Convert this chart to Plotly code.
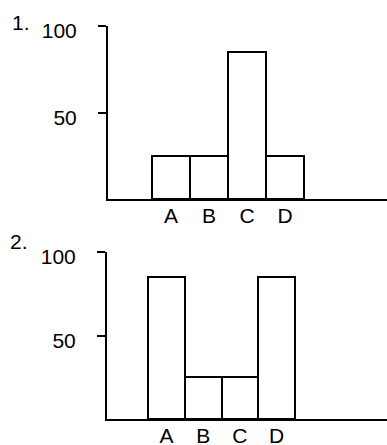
import plotly.graph_objects as go

categories = ['A', 'B', 'C', 'D']
values_1 = [25, 25, 85, 25]
values_2 = [85, 25, 25, 85]
y_ticks = [50, 100]
panel_labels = ['1.', '2.']

FONT = dict(family='Liberation Sans, Arial, sans-serif', size=21, color='black')
W, H = 387, 445

fig = go.Figure()
bar_style = dict(marker=dict(color='white', line=dict(color='black', width=2)),
                 width=1, showlegend=False, hoverinfo='skip')
fig.add_trace(go.Bar(x=categories, y=values_1, xaxis='x', yaxis='y', **bar_style))
fig.add_trace(go.Bar(x=categories, y=values_2, xaxis='x2', yaxis='y2', **bar_style))


def xaxis(domain, rng, anchor):
    return dict(domain=domain, range=rng, anchor=anchor, type='category',
                showline=True, linecolor='black', linewidth=2, showgrid=False,
                zeroline=False, ticks='', tickfont=FONT, fixedrange=True,
                ticklabelstandoff=-3, automargin=False)


def yaxis(domain, anchor):
    return dict(domain=domain, range=[0, 100], anchor=anchor,
                tickvals=y_ticks, ticks='outside', ticklen=8, tickwidth=2,
                tickcolor='black', showline=True, linecolor='black',
                linewidth=2, showgrid=False, zeroline=False, tickfont=FONT,
                ticklabelstandoff=17, ticklabelshift=5, fixedrange=True,
                automargin=False)


def inner_ticks(domain, anchor, over):
    return dict(domain=domain, range=[0, 100], anchor=anchor, overlaying=over,
                tickvals=y_ticks, ticks='inside', ticklen=13, tickwidth=2,
                tickcolor='black', showticklabels=False, showline=False,
                showgrid=False, zeroline=False, fixedrange=True,
                automargin=False)


d1 = [1 - 199 / H, 1 - 26 / H]
d2 = [1 - 419 / H, 1 - 252 / H]
fig.update_layout(
    width=W, height=H,
    margin=dict(l=0, r=0, t=0, b=0),
    paper_bgcolor='white', plot_bgcolor='white',
    bargap=0,
    xaxis=xaxis([108 / W, 1], [-1.66, 5.68], 'y'),
    yaxis=yaxis(d1, 'x'),
    xaxis2=xaxis([107 / W, 1], [-1.62, 6.01], 'y2'),
    yaxis2=yaxis(d2, 'x2'),
    yaxis3=inner_ticks(d1, 'x', 'y'),
    yaxis4=inner_ticks(d2, 'x2', 'y2'),
)

for label, ypix, xpix in zip(panel_labels, [23, 241], [21, 19]):
    fig.add_annotation(text=label, x=xpix / W, y=1 - ypix / H, xref='paper',
                       yref='paper', xanchor='center', yanchor='middle',
                       showarrow=False, font=FONT)

# page body has a default 8px margin; drop it so the figure fills the window
fig.write_html('out.html', config={'displayModeBar': False},
               post_script="document.body.style.margin='0';")
